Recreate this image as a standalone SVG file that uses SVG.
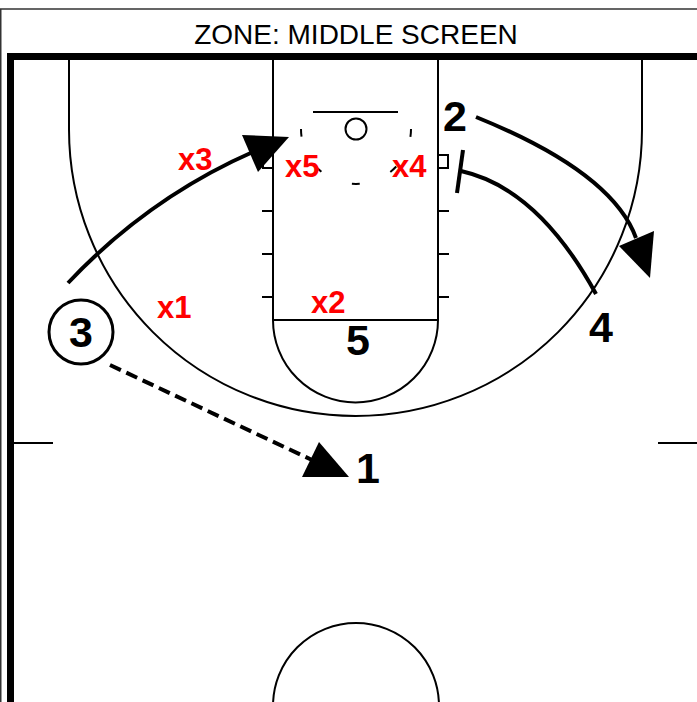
<svg xmlns="http://www.w3.org/2000/svg" width="697" height="702" viewBox="0 0 697 702">
<style>
.court{fill:none;stroke:#000;stroke-width:2}
.thick{fill:none;stroke:#000;stroke-width:7}
.move{fill:none;stroke:#000;stroke-width:4}
.pass{fill:none;stroke:#000;stroke-width:4;stroke-dasharray:12 6}
.head{fill:#000;stroke:none}
.off{font-family:"Liberation Sans",Arial,sans-serif;font-weight:bold;font-size:43px;fill:#000;text-anchor:middle}
.def{font-family:"Liberation Sans",Arial,sans-serif;font-weight:bold;font-size:31px;fill:#ff0000}
.title{font-family:"Liberation Sans",Arial,sans-serif;font-size:28px;fill:#000;text-anchor:middle}
</style>
<rect width="697" height="702" fill="#fff"/>
<g id="frame">
<rect x="0.75" y="9" width="720" height="720" fill="none" stroke="#333" stroke-width="1.5"/>
<text class="title" x="356" y="44">ZONE: MIDDLE SCREEN</text>
</g>
<g id="court">
<path class="thick" d="M10.5,720 V56.5 H720"/>
<path class="court" d="M69,60 V129.5 A286.5,286.5 0 0 0 642,129.5 V60"/>
<path class="court" d="M273,60 V320 M438,60 V320 M273,320 H438"/>
<path class="court" d="M273,320 A82.5,82.5 0 0 0 438,320"/>
<path class="court" d="M313,112 H398"/>
<circle class="court" cx="356" cy="129" r="10.5"/>
<path class="court" d="M411,129 A55,55 0 0 1 301,129" stroke-dasharray="8 33.2"/>
<path class="court" d="M262,211 H273 M262,254 H273 M262,297 H273 M438,211 H449 M438,254 H449 M438,297 H449"/>
<rect class="court" x="263" y="155" width="10" height="13"/>
<rect class="court" x="438" y="155" width="10" height="13"/>
<path class="court" d="M14,443 H53 M658,443 H697"/>
<circle class="court" cx="356" cy="706" r="83"/>
</g>
<g id="connectors">
<path class="move" d="M68,283 Q148.5,197.5 255,151"/>
<polygon class="head" points="242,135 289,137 258,172"/>
<path class="move" d="M476,117 Q612,172 636,238"/>
<polygon class="head" points="619,246 654,231 650,278"/>
<path class="move" d="M596,294 Q538,188 461,171"/>
<path class="move" d="M463,150 L457,193"/>
<path class="pass" d="M110,365 L312,460"/>
<polygon class="head" points="302,477 319,442 349,477"/>
</g>
<g id="p3">
<circle cx="81" cy="332" r="32" fill="#fff" stroke="#000" stroke-width="3"/>
<text class="off" x="81" y="347">3</text>
</g>
<g id="p2"><text class="off" x="455" y="131">2</text></g>
<g id="p5"><text class="off" x="358" y="355">5</text></g>
<g id="p4"><text class="off" x="601" y="342">4</text></g>
<g id="p1"><text class="off" x="368" y="483">1</text></g>
<g id="x3"><text class="def" x="178" y="170">x3</text></g>
<g id="x5"><text class="def" x="285" y="177">x5</text></g>
<g id="x4"><text class="def" x="392" y="177">x4</text></g>
<g id="x1"><text class="def" x="157" y="318">x1</text></g>
<g id="x2"><text class="def" x="311" y="313">x2</text></g>
</svg>
